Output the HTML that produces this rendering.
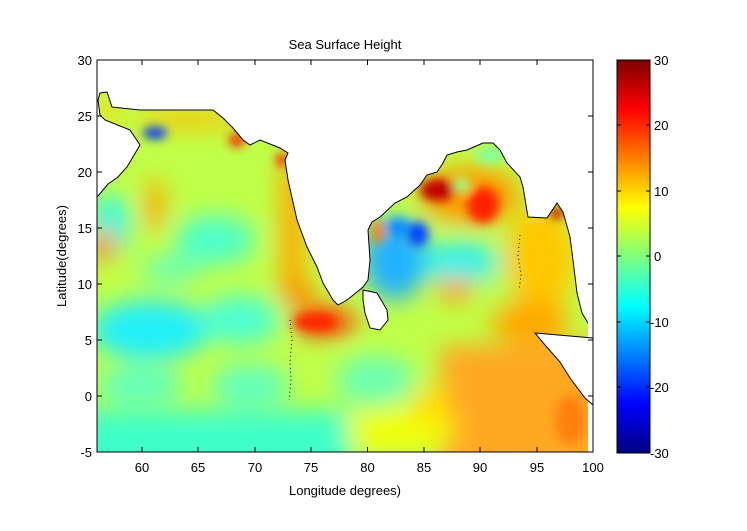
<!DOCTYPE html>
<html><head><meta charset="utf-8"><style>
html,body{margin:0;padding:0;background:#fff;}
svg{display:block;font-family:"Liberation Sans",sans-serif;}
</style></head><body>
<svg width="747" height="531" viewBox="0 0 747 531" xmlns="http://www.w3.org/2000/svg">
<defs>
<clipPath id="pc"><rect x="97" y="60" width="496" height="392"/></clipPath>
<filter id="bl" x="-20%" y="-20%" width="140%" height="140%"><feGaussianBlur stdDeviation="12"/></filter>
<filter id="bl2" x="-50%" y="-50%" width="200%" height="200%"><feGaussianBlur stdDeviation="5"/></filter>
<linearGradient id="jet" x1="0" y1="1" x2="0" y2="0">
<stop offset="0" stop-color="#000080"/>
<stop offset="0.125" stop-color="#0000ff"/>
<stop offset="0.375" stop-color="#00ffff"/>
<stop offset="0.625" stop-color="#ffff00"/>
<stop offset="0.875" stop-color="#ff0000"/>
<stop offset="1" stop-color="#800000"/>
</linearGradient>
</defs>
<rect width="747" height="531" fill="#fff"/>
<g clip-path="url(#pc)">
<rect x="97" y="60" width="496" height="392" fill="#c0ff48"/>
<g filter="url(#bl)">
<rect x="60" y="410" width="290" height="70" fill="#40ffc8"/>
<ellipse cx="150" cy="330" rx="60" ry="30" fill="#20f0f8"/>
<ellipse cx="240" cy="320" rx="40" ry="25" fill="#50ffd0"/>
<ellipse cx="110" cy="225" rx="20" ry="30" fill="#30f8e8"/>
<ellipse cx="215" cy="240" rx="40" ry="25" fill="#50ffc8"/>
<ellipse cx="170" cy="270" rx="30" ry="15" fill="#70ffb0"/>
<ellipse cx="250" cy="385" rx="40" ry="20" fill="#60ffc0"/>
<ellipse cx="140" cy="385" rx="45" ry="18" fill="#60ffc0"/>
<rect x="280" y="165" width="25" height="130" fill="#ffa800"/>
<ellipse cx="190" cy="120" rx="55" ry="9" fill="#ffc000"/>
<ellipse cx="108" cy="110" rx="8" ry="18" fill="#ffd000"/>
<ellipse cx="325" cy="322" rx="32" ry="14" fill="#ff3000"/>
<ellipse cx="300" cy="295" rx="18" ry="12" fill="#ff8800"/>
<ellipse cx="103" cy="245" rx="12" ry="16" fill="#ff7000"/>
<ellipse cx="155" cy="205" rx="10" ry="28" fill="#ffa800"/>
<ellipse cx="395" cy="260" rx="32" ry="40" fill="#20b0ff"/>
<ellipse cx="460" cy="262" rx="40" ry="20" fill="#30f0f0"/>
<ellipse cx="470" cy="195" rx="50" ry="28" fill="#ff9800"/>
<ellipse cx="540" cy="260" rx="35" ry="55" fill="#ffc800"/>
<ellipse cx="530" cy="322" rx="40" ry="22" fill="#ffa800"/>
<ellipse cx="500" cy="290" rx="15" ry="12" fill="#b0ff50"/>
<ellipse cx="455" cy="290" rx="18" ry="12" fill="#ff9800"/>
<rect x="440" y="345" width="170" height="130" fill="#ffa820"/>
<ellipse cx="375" cy="380" rx="40" ry="25" fill="#70ffb0"/>
<ellipse cx="400" cy="430" rx="55" ry="22" fill="#f0ff10"/>
<ellipse cx="430" cy="405" rx="20" ry="20" fill="#ffe000"/>
</g>
<g filter="url(#bl2)">
<ellipse cx="155" cy="133" rx="12" ry="6" fill="#0030ff"/>
<ellipse cx="237" cy="140" rx="8" ry="7" fill="#ff2000"/>
<ellipse cx="282" cy="160" rx="6" ry="7" fill="#ff2000"/>
<ellipse cx="418" cy="234" rx="10" ry="12" fill="#0040ff"/>
<ellipse cx="398" cy="228" rx="12" ry="10" fill="#1090ff"/>
<ellipse cx="438" cy="190" rx="18" ry="11" fill="#c00000"/>
<ellipse cx="483" cy="205" rx="16" ry="18" fill="#ff2000"/>
<ellipse cx="462" cy="185" rx="8" ry="8" fill="#a0ff80"/>
<ellipse cx="490" cy="155" rx="15" ry="8" fill="#80ffa0"/>
<ellipse cx="557" cy="213" rx="7" ry="6" fill="#c00000"/>
<ellipse cx="378" cy="232" rx="6" ry="12" fill="#ff8000"/>
<ellipse cx="570" cy="420" rx="15" ry="25" fill="#ff8010"/>
<ellipse cx="315" cy="322" rx="22" ry="9" fill="#ff2800"/>
</g>
<path d="M97,60 L593,60 L593,330 L588,323 L582,313 L577,293 L573,260 L570,237 L563,212 L557,203 L547,218 L528,217 L523,187 L520,177 L507,163 L500,150 L493,143 L483,143 L467,150 L457,152 L447,155 L443,163 L437,172 L427,175 L420,185 L407,197 L395,203 L380,217 L372,222 L368,230 L370,260 L368,280 L363,287 L357,292 L347,300 L338,305 L333,300 L323,283 L317,267 L307,247 L297,220 L288,180 L285,160 L288,153 L280,148 L260,140 L250,145 L243,140 L233,128 L223,118 L213,110 L183,110 L140,110 L112,107 L107,92 L100,93 L98,100 L100,115 L105,120 L130,130 L140,145 L127,167 L118,177 L108,184 L98,196 L97,196 Z" fill="#fff" stroke="#000" stroke-width="1"/>
<rect x="588" y="320" width="6" height="135" fill="#fff"/>
<path d="M535,333 L593,338 L593,405 L585,398 L570,378 L560,362 L545,345 Z" fill="#fff" stroke="#000" stroke-width="1"/>
<path d="M363,290 L377,293 L387,310 L388,320 L380,330 L370,328 L365,313 L363,300 Z" fill="#fff" stroke="#000" stroke-width="1"/>
<path d="M290,320 L292,340 L290,360 L291,380 L289,400" fill="none" stroke="#000" stroke-width="1" stroke-dasharray="1,3"/>
<path d="M520,235 L518,255 L521,275 L519,290" fill="none" stroke="#000" stroke-width="1" stroke-dasharray="1,3"/>
</g>
<rect x="97" y="60" width="496" height="392" fill="none" stroke="#000" stroke-width="1"/>
<g stroke="#000" stroke-width="1">
<path d="M142,452v-5M198,452v-5M255,452v-5M311,452v-5M367.5,452v-5M424,452v-5M480,452v-5M537,452v-5M142,60v5M198,60v5M255,60v5M311,60v5M367.5,60v5M424,60v5M480,60v5M537,60v5"/>
<path d="M97,116h5M97,172h5M97,228h5M97,284h5M97,340h5M97,396h5M593,116h-5M593,172h-5M593,228h-5M593,284h-5M593,340h-5M593,396h-5"/>
</g>
<g font-size="13" fill="#000" text-anchor="middle">
<text x="142" y="472">60</text><text x="198" y="472">65</text><text x="255" y="472">70</text><text x="311" y="472">75</text><text x="367.5" y="472">80</text><text x="424" y="472">85</text><text x="480" y="472">90</text><text x="537" y="472">95</text><text x="593" y="472">100</text>
<text x="345" y="49">Sea Surface Height</text>
<text x="345" y="495">Longitude degrees)</text>
<text transform="translate(66,256) rotate(-90)">Latitude(degrees)</text>
</g>
<g font-size="13" fill="#000" text-anchor="end">
<text x="92" y="65">30</text><text x="92" y="121">25</text><text x="92" y="177">20</text><text x="92" y="233">15</text><text x="92" y="289">10</text><text x="92" y="345">5</text><text x="92" y="401">0</text><text x="92" y="457">-5</text>
</g>
<rect x="617" y="60" width="33" height="393" fill="url(#jet)" stroke="#000" stroke-width="1"/>
<g stroke="#000" stroke-width="1">
<path d="M617,125h4M617,191h4M617,256h4M617,322h4M617,387h4M650,125h-4M650,191h-4M650,256h-4M650,322h-4M650,387h-4"/>
</g>
<g font-size="13" fill="#000">
<text x="654" y="65">30</text><text x="654" y="130">20</text><text x="654" y="196">10</text><text x="654" y="261">0</text><text x="650" y="327">-10</text><text x="650" y="392">-20</text><text x="650" y="458">-30</text>
</g>
</svg>
</body></html>
